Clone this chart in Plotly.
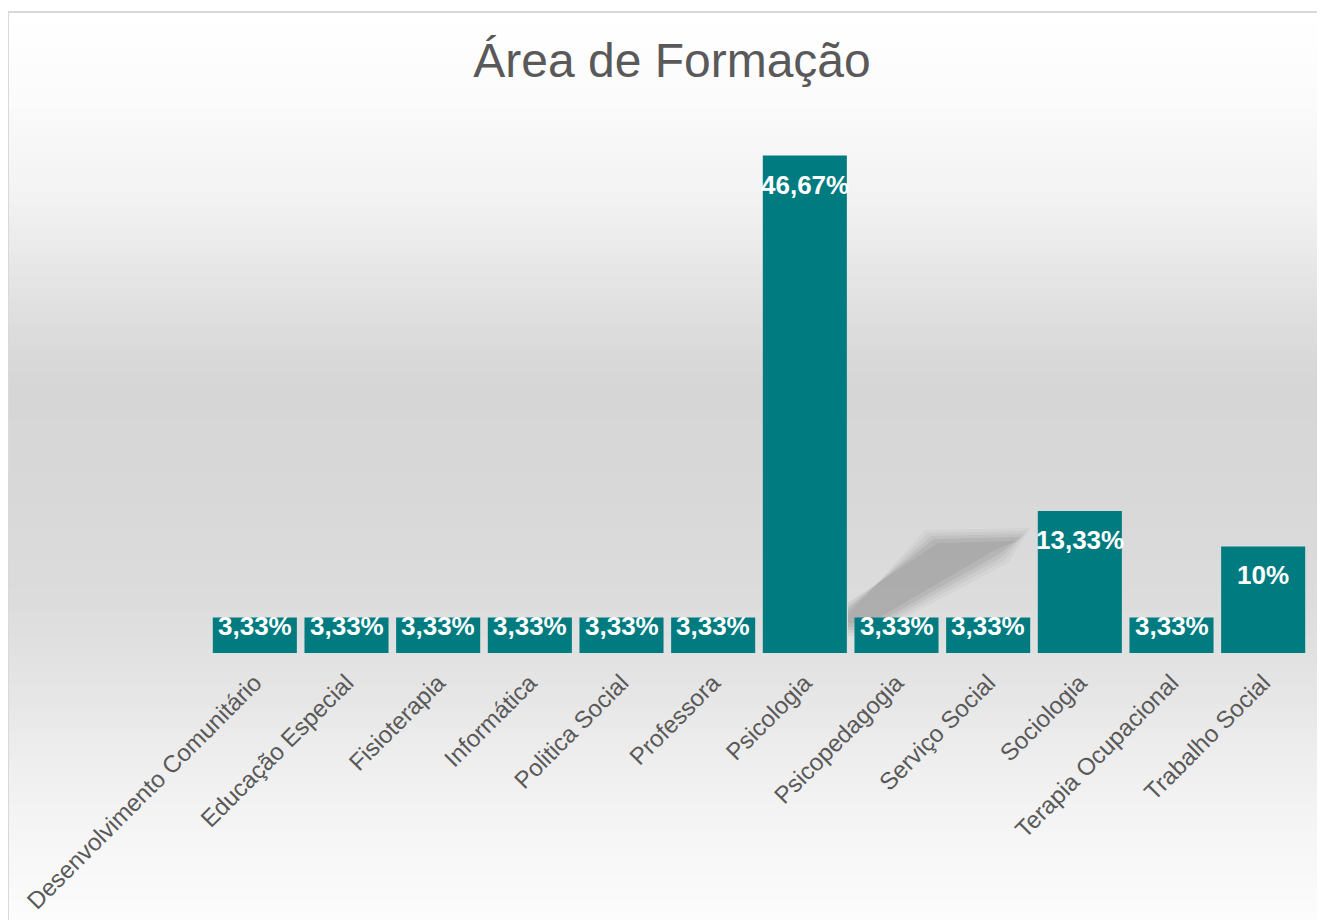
import numpy as np
import plotly.graph_objects as go

# ---- data ----
categories = ["Desenvolvimento Comunitário", "Educação Especial", "Fisioterapia",
              "Informática", "Politica Social", "Professora", "Psicologia",
              "Psicopedagogia", "Serviço Social", "Sociologia",
              "Terapia Ocupacional", "Trabalho Social"]
values = [3.33, 3.33, 3.33, 3.33, 3.33, 3.33, 46.67, 3.33, 3.33, 13.33, 3.33, 10.0]
value_labels = ["3,33%", "3,33%", "3,33%", "3,33%", "3,33%", "3,33%", "46,67%",
                "3,33%", "3,33%", "13,33%", "3,33%", "10%"]
title_text = "Área de Formação"

# ---- layout geometry (pixels, screen coords; page has 8px body offset) ----
OFF = 8
W, H = 1325 - OFF, 920 - OFF
ML, MR, MT = 209 - OFF, W - (1309 - OFF), 120 - OFF
MB = H - (653 - OFF)
PW = W - ML - MR
PH = H - MT - MB


def px_to_paper_x(px):
    return (px - OFF - ML) / PW


def px_to_paper_y(py):
    return (H - MB - (py - OFF)) / PH


FONT = "Liberation Sans, Arial, sans-serif"

fig = go.Figure()

fig.add_trace(go.Bar(
    x=categories, y=values,
    marker=dict(color="#007c81", line=dict(width=0)),
    hoverinfo="x+y",
))

# data labels
annotations = []
for c, v, t in zip(categories, values, value_labels):
    annotations.append(dict(
        x=c, y=v, xref="x", yref="y", text=t, showarrow=False,
        yanchor="top", yshift=(-12 if v > 5 else 9),
        font=dict(family=FONT, size=26, color="white", weight="bold"),
    ))

# background gradient (styling)
shapes = []
stops_py = [12, 100, 200, 300, 380, 460, 600, 680, 760, 840, 920]
stops_c = [255, 251, 242, 225, 214, 215, 220, 228, 238, 246, 252]
step = 6
for y0 in range(12, 930, step):
    y1 = y0 + step
    c = int(round(np.interp((y0 + y1) / 2, stops_py, stops_c)))
    col = f"rgb({c},{c},{c})"
    shapes.append(dict(type="rect", xref="paper", yref="paper", layer="below",
                       x0=px_to_paper_x(8), x1=px_to_paper_x(1340),
                       y0=px_to_paper_y(y1 + 0.5), y1=px_to_paper_y(y0),
                       fillcolor=col, line=dict(width=0)))


# soft shadow decoration
def pth(pts):
    return "M " + " L ".join(f"{px_to_paper_x(a):.4f},{px_to_paper_y(b):.4f}" for a, b in pts) + " Z"


for op, grow in [(0.06, 10), (0.08, 7), (0.10, 4), (0.14, 1), (0.14, -3)]:
    pts = [(848, 606 + grow), (935 - grow, 540 - grow), (1020 + grow, 538 - grow),
           (998 + grow, 553 + grow), (870, 626 + grow), (848, 626 + grow)]
    shapes.append(dict(type="path", xref="paper", yref="paper", layer="below",
                       path=pth(pts), fillcolor=f"rgba(110,110,110,{op})", line=dict(width=0)))

# outer border
shapes.append(dict(type="rect", xref="paper", yref="paper", layer="above",
                   x0=px_to_paper_x(8), x1=px_to_paper_x(1345),
                   y0=px_to_paper_y(940), y1=px_to_paper_y(12),
                   fillcolor="rgba(0,0,0,0)", line=dict(color="#d9d9d9", width=2)))

fig.update_layout(
    width=W, height=H,
    margin=dict(l=ML, r=MR, t=MT, b=MB),
    paper_bgcolor="white",
    plot_bgcolor="rgba(0,0,0,0)",
    bargap=0.083,
    showlegend=False,
    title=dict(text=title_text, x=px_to_paper_x(672), xref="paper", xanchor="center",
               y=1 - (60 - OFF) / H, yref="container", yanchor="middle",
               font=dict(family=FONT, size=48, color="#595959")),
    xaxis=dict(tickangle=-45, showgrid=False, zeroline=False, showline=False,
               ticks="", ticklabelstandoff=10,
               tickfont=dict(family=FONT, size=24, color="#595959"),
               automargin=False),
    yaxis=dict(range=[0, 50], visible=False, showgrid=False, zeroline=False),
    shapes=shapes,
    annotations=annotations,
)

fig.write_html("out.html")
